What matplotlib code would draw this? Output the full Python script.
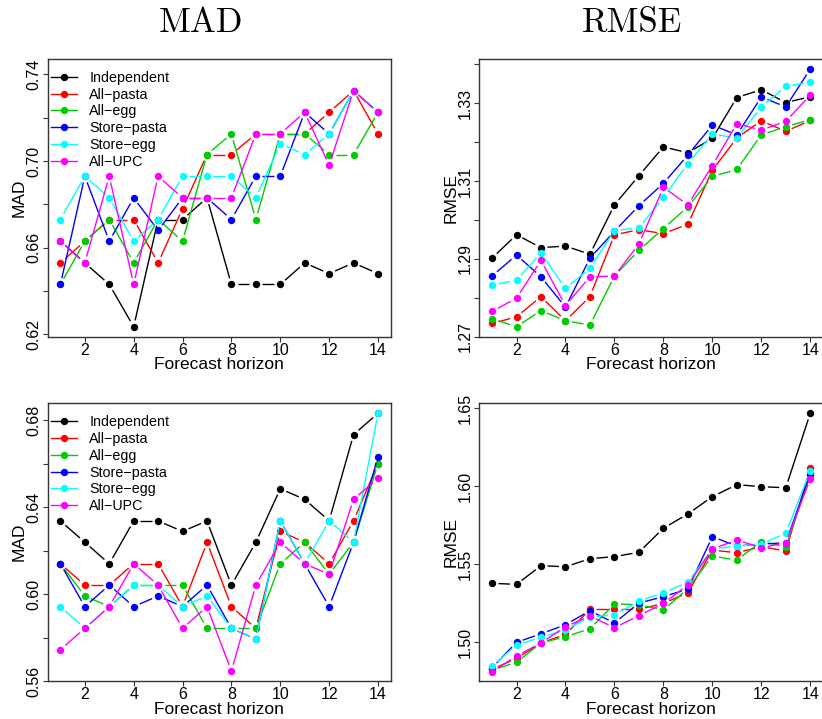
import numpy as np
import matplotlib
matplotlib.use("Agg")
import matplotlib.pyplot as plt
from matplotlib.lines import Line2D

plt.rcParams["font.family"] = ["Liberation Sans", "DejaVu Sans"]

horizon = np.arange(1, 15)
names = ["Independent", "All\u2212pasta", "All\u2212egg",
         "Store\u2212pasta", "Store\u2212egg", "All\u2212UPC"]
colors = ["#000000", "#FF0000", "#00CD00", "#0000FF", "#00FFFF", "#FF00FF"]

# MAD, top row
mad1_indep = [0.663, 0.653, 0.643, 0.6235, 0.673, 0.673, 0.683, 0.643, 0.643, 0.643, 0.653, 0.648, 0.653, 0.648]
mad1_allpasta = [0.653, 0.663, 0.673, 0.673, 0.653, 0.678, 0.703, 0.703, 0.7125, 0.7125, 0.7125, 0.7225, 0.7325, 0.7125]
mad1_allegg = [0.643, 0.663, 0.673, 0.653, 0.673, 0.663, 0.703, 0.7125, 0.673, 0.7125, 0.7125, 0.703, 0.703, 0.7225]
mad1_storepasta = [0.643, 0.693, 0.663, 0.683, 0.668, 0.683, 0.683, 0.673, 0.693, 0.693, 0.7225, 0.7125, 0.7325, 0.7225]
mad1_storeegg = [0.673, 0.693, 0.683, 0.663, 0.673, 0.693, 0.693, 0.693, 0.683, 0.708, 0.703, 0.7125, 0.7325, 0.7225]
mad1_allupc = [0.663, 0.653, 0.693, 0.643, 0.693, 0.683, 0.683, 0.683, 0.7125, 0.7125, 0.7225, 0.698, 0.7325, 0.7225]

# RMSE, top row
rmse1_indep = [1.2902, 1.2962, 1.2929, 1.2933, 1.2912, 1.3039, 1.3114, 1.3188, 1.3173, 1.3210, 1.3315, 1.3335, 1.3302, 1.3317]
rmse1_allpasta = [1.2734, 1.2751, 1.2803, 1.2741, 1.2803, 1.2962, 1.2975, 1.2965, 1.2989, 1.3128, 1.3211, 1.3255, 1.3228, 1.3256]
rmse1_allegg = [1.2746, 1.2726, 1.2767, 1.2741, 1.2730, 1.2856, 1.2922, 1.2978, 1.3034, 1.3112, 1.3130, 1.3219, 1.3240, 1.3258]
rmse1_storepasta = [1.2856, 1.2910, 1.2854, 1.2776, 1.2902, 1.2971, 1.3037, 1.3094, 1.3167, 1.3244, 1.3219, 1.3316, 1.3291, 1.3388]
rmse1_storeegg = [1.2833, 1.2845, 1.2915, 1.2824, 1.2876, 1.2973, 1.2980, 1.3058, 1.3145, 1.3221, 1.3211, 1.3290, 1.3344, 1.3354]
rmse1_allupc = [1.2765, 1.2799, 1.2896, 1.2780, 1.2854, 1.2856, 1.2938, 1.3084, 1.3039, 1.3140, 1.3248, 1.3231, 1.3254, 1.3321]

# MAD, bottom row
mad2_indep = [0.6336, 0.6238, 0.6139, 0.6336, 0.6336, 0.6288, 0.6336, 0.6041, 0.6238, 0.6484, 0.6435, 0.6337, 0.6733, 0.6831]
mad2_allpasta = [0.6139, 0.6041, 0.6041, 0.6139, 0.6139, 0.5942, 0.6238, 0.5942, 0.5842, 0.6288, 0.6238, 0.6139, 0.6337, 0.6600]
mad2_allegg = [0.6139, 0.5991, 0.5942, 0.6041, 0.6041, 0.6041, 0.5842, 0.5842, 0.5842, 0.6139, 0.6238, 0.6091, 0.6238, 0.6600]
mad2_storepasta = [0.6139, 0.5942, 0.6041, 0.5942, 0.5991, 0.5942, 0.6041, 0.5842, 0.5793, 0.6337, 0.6139, 0.5942, 0.6238, 0.6631]
mad2_storeegg = [0.5942, 0.5842, 0.5942, 0.6041, 0.6041, 0.5942, 0.5991, 0.5842, 0.5793, 0.6337, 0.6139, 0.6337, 0.6238, 0.6831]
mad2_allupc = [0.5744, 0.5842, 0.5942, 0.6139, 0.6041, 0.5842, 0.5942, 0.5646, 0.6041, 0.6238, 0.6139, 0.6091, 0.6435, 0.6533]

# RMSE, bottom row
rmse2_indep = [1.5377, 1.5370, 1.5490, 1.5483, 1.5535, 1.5548, 1.5576, 1.5730, 1.5822, 1.5933, 1.6010, 1.5997, 1.5990, 1.6468]
rmse2_allpasta = [1.4825, 1.4895, 1.4994, 1.5049, 1.5210, 1.5210, 1.5210, 1.5248, 1.5316, 1.5590, 1.5573, 1.5612, 1.5584, 1.6115]
rmse2_allegg = [1.4820, 1.4870, 1.4994, 1.5034, 1.5085, 1.5244, 1.5240, 1.5205, 1.5344, 1.5552, 1.5526, 1.5644, 1.5612, 1.6072]
rmse2_storepasta = [1.4835, 1.4998, 1.5053, 1.5111, 1.5201, 1.5122, 1.5250, 1.5291, 1.5340, 1.5676, 1.5616, 1.5629, 1.5637, 1.6078]
rmse2_storeegg = [1.4844, 1.4981, 1.5030, 1.5077, 1.5162, 1.5173, 1.5263, 1.5316, 1.5383, 1.5597, 1.5616, 1.5629, 1.5698, 1.6100]
rmse2_allupc = [1.4809, 1.4910, 1.4994, 1.5098, 1.5167, 1.5092, 1.5169, 1.5248, 1.5366, 1.5597, 1.5655, 1.5605, 1.5637, 1.6048]

xticks = [2, 4, 6, 8, 10, 12, 14]
mad1_yticks = [0.62, 0.64, 0.66, 0.68, 0.70, 0.72, 0.74]
mad1_ylabels = ["0.62", "", "0.66", "", "0.70", "", "0.74"]
rmse1_yticks = [1.27, 1.28, 1.29, 1.30, 1.31, 1.32, 1.33, 1.34]
rmse1_ylabels = ["1.27", "", "1.29", "", "1.31", "", "1.33", ""]
mad2_yticks = [0.56, 0.58, 0.60, 0.62, 0.64, 0.66, 0.68]
mad2_ylabels = ["0.56", "", "0.60", "", "0.64", "", "0.68"]
rmse2_yticks = [1.50, 1.55, 1.60, 1.65]
rmse2_ylabels = ["1.50", "1.55", "1.60", "1.65"]

W, H = 822, 719
fig = plt.figure(figsize=(W / 100, H / 100), dpi=100)


def panel(left, top, right, bottom):
    return fig.add_axes([left / W, 1 - bottom / H, (right - left) / W, (bottom - top) / H])


GAP = 6.5  # pixels from a point where the connecting line stops (R type="b")


def draw_b(ax, y, color):
    pts = ax.transData.transform(np.column_stack([horizon, y]))
    inv = ax.transData.inverted()
    for p0, p1 in zip(pts[:-1], pts[1:]):
        d = p1 - p0
        L = np.hypot(d[0], d[1])
        if L <= 2 * GAP:
            continue
        u = d / L
        seg = inv.transform(np.array([p0 + u * GAP, p1 - u * GAP]))
        ax.plot(seg[:, 0], seg[:, 1], color=color, lw=1.0, solid_capstyle="butt")
    ax.plot(horizon, y, "o", color=color, ms=5.3, mew=0)


def setup(ax, ylim, yticks, ylabels, ylabel, series, legend):
    ax.set_xlim(0.48, 14.52)
    ax.set_ylim(*ylim)
    for y, c in zip(series, colors):
        draw_b(ax, y, c)
    ax.set_xticks(xticks)
    ax.set_yticks(yticks)
    ax.set_yticklabels(ylabels, rotation=90, va="center")
    for s in ax.spines.values():
        s.set_color("#333333")
        s.set_linewidth(1.0)
    ax.tick_params(direction="out", length=3.6, width=0.8, color="#333333",
                   labelsize=11.5)
    ax.tick_params(axis="x", pad=0.8)
    ax.tick_params(axis="y", pad=0.8)
    ax.set_xlabel("Forecast horizon", fontsize=12.5)
    ax.xaxis.set_label_coords(0.5, -0.074)
    ax.set_ylabel(ylabel, fontsize=12.5)
    ax.yaxis.set_label_coords(-0.060, 0.5)
    if legend:
        handles = [Line2D([], [], color=c, lw=1.0, marker="o", ms=5.3, mew=0)
                   for c in colors]
        ax.legend(handles, names, loc="upper left", bbox_to_anchor=(0.009, 0.958),
                  frameon=False, fontsize=10.3, handlelength=1.86,
                  handletextpad=0.84, labelspacing=0.2, borderaxespad=0,
                  borderpad=0)


ax1 = panel(47.7, 59, 390.7, 336.7)
setup(ax1, (0.6189, 0.7471), mad1_yticks, mad1_ylabels, "MAD",
      [mad1_indep, mad1_allpasta, mad1_allegg, mad1_storepasta, mad1_storeegg, mad1_allupc], True)

ax2 = panel(479.3, 59, 823, 336.7)
setup(ax2, (1.2700, 1.3414), rmse1_yticks, rmse1_ylabels, "RMSE",
      [rmse1_indep, rmse1_allpasta, rmse1_allegg, rmse1_storepasta, rmse1_storeegg, rmse1_allupc], False)

ax3 = panel(47.7, 403.3, 390.7, 681)
setup(ax3, (0.5600, 0.6877), mad2_yticks, mad2_ylabels, "MAD",
      [mad2_indep, mad2_allpasta, mad2_allegg, mad2_storepasta, mad2_storeegg, mad2_allupc], True)

ax4 = panel(479.3, 403.3, 823, 681)
setup(ax4, (1.4750, 1.6532), rmse2_yticks, rmse2_ylabels, "RMSE",
      [rmse2_indep, rmse2_allpasta, rmse2_allegg, rmse2_storepasta, rmse2_storeegg, rmse2_allupc], False)

fig.text(201 / W, 1 - 32 / H, "MAD", family="cmr10", fontsize=25, ha="center", va="baseline")
fig.text(632 / W, 1 - 32 / H, "RMSE", family="cmr10", fontsize=25, ha="center", va="baseline")

fig.savefig("out.png", dpi=100)
